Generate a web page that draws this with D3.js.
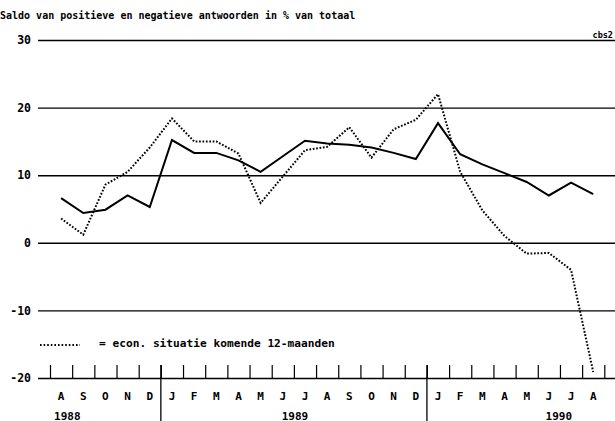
<!DOCTYPE html>
<html>
<head>
<meta charset="utf-8">
<script src="https://cdn.jsdelivr.net/npm/d3@7/dist/d3.min.js"></script>
<style>
  html, body { margin: 0; padding: 0; background: #fff; }
  svg { display: block; }
  text { font-family: "DejaVu Sans Mono", monospace; font-weight: bold; fill: #000; }
</style>
</head>
<body>
<svg id="chart" width="615" height="421"></svg>
<script>
// ---- data ----
const months = ["A","S","O","N","D","J","F","M","A","M","J","J","A","S","O","N","D","J","F","M","A","M","J","J","A"];
const years = ["1988","1989","1990"];
const consumerConfidence = [6.6,4.4,4.9,7.0,5.3,15.2,13.3,13.3,12.2,10.5,12.8,15.1,14.7,14.5,14.1,13.3,12.4,17.7,13.1,11.6,10.3,9.0,7.0,8.9,7.2];
const econOutlook12m = [3.6,1.2,8.6,10.5,14.1,18.4,15.0,15.0,13.2,5.9,9.8,13.7,14.2,17.1,12.6,16.8,18.2,22.0,10.5,4.8,1.0,-1.6,-1.5,-4.0,-19.1];
const yTicks = [30,20,10,0,-10,-20];
const titleText = "Saldo van positieve en negatieve antwoorden in % van totaal";
const legendText = "= econ. situatie komende 12-maanden";
const sourceText = "cbs2";

// ---- layout ----
const svg = d3.select("#chart");
const gridLeft = 38, gridRight = 615;
const xLeft = 50, xRight = 604.3;

const y = d3.scaleLinear().domain([-20, 30]).range([378, 40]);
const xm = d3.scaleLinear().domain([0, months.length]).range([xLeft, xRight]);
const xb = d3.scaleBand().domain(d3.range(months.length)).range([xLeft, xRight]).padding(0);
const xc = i => xb(i) + xb.bandwidth() / 2;

// title
svg.append("text").attr("x", 0).attr("y", 18.5).attr("font-size", 10).text(titleText);
svg.append("text").attr("x", 613).attr("y", 37.5).attr("font-size", 8.5)
  .attr("text-anchor", "end").text(sourceText);

// y axis with gridlines
const yAxis = d3.axisLeft(y).tickValues(yTicks).tickSize(-(gridRight - gridLeft)).tickPadding(7)
  .tickFormat(d => d < 0 ? "-" + Math.abs(d) : d);
const gy = svg.append("g").attr("transform", `translate(${gridLeft},0)`).call(yAxis);
gy.select(".domain").remove();
gy.selectAll(".tick line").attr("stroke", "#000").attr("stroke-width", 1.4);
gy.selectAll(".tick text").attr("font-size", 11.5).attr("font-family", "DejaVu Sans Mono")
  .attr("font-weight", "bold").attr("fill", "#000");

// month ticks (upward from baseline)
const tickAxis = d3.axisTop(xm).tickValues(d3.range(months.length + 1)).tickSize(13).tickFormat("");
const gt = svg.append("g").attr("transform", `translate(0,${y(-20)})`).call(tickAxis);
gt.select(".domain").remove();
gt.selectAll(".tick line").attr("stroke", "#000").attr("stroke-width", 1.2);

// month labels
const labAxis = d3.axisBottom(xb).tickSize(0).tickPadding(0).tickFormat(i => months[i]);
const gl = svg.append("g").attr("transform", `translate(0,${y(-20)})`).call(labAxis);
gl.select(".domain").remove();
gl.selectAll(".tick text").attr("dy", null).attr("y", 22).attr("font-size", 11)
  .attr("font-family", "DejaVu Sans Mono").attr("font-weight", "bold").attr("fill", "#000");

// year dividers (January)
const yearStarts = [5, 17];
svg.selectAll("line.div").data(yearStarts).enter().append("line")
  .attr("x1", d => xm(d)).attr("x2", d => xm(d))
  .attr("y1", y(-20) - 13).attr("y2", 421)
  .attr("stroke", "#000").attr("stroke-width", 1.3);

// year labels
const yearAt = [0.78, 11.05, 22.95];
svg.selectAll("text.year").data(years).enter().append("text")
  .attr("x", (d, i) => xm(yearAt[i])).attr("y", 419.5)
  .attr("text-anchor", "middle").attr("font-size", 11).text(d => d);

// lines
const line = d3.line().x((d, i) => xc(i)).y(d => y(d));
svg.append("path").datum(econOutlook12m).attr("d", line)
  .attr("fill", "none").attr("stroke", "#000").attr("stroke-width", 2)
  .attr("stroke-dasharray", "1.7,1.7");
svg.append("path").datum(consumerConfidence).attr("d", line)
  .attr("fill", "none").attr("stroke", "#000").attr("stroke-width", 2)
  .attr("stroke-linejoin", "miter");

// legend
svg.append("line").attr("x1", 40).attr("x2", 80).attr("y1", 345).attr("y2", 345)
  .attr("stroke", "#000").attr("stroke-width", 1.8).attr("stroke-dasharray", "1.6,2");
svg.append("text").attr("x", 99).attr("y", 347).attr("font-size", 11.2).text(legendText);
</script>
</body>
</html>
